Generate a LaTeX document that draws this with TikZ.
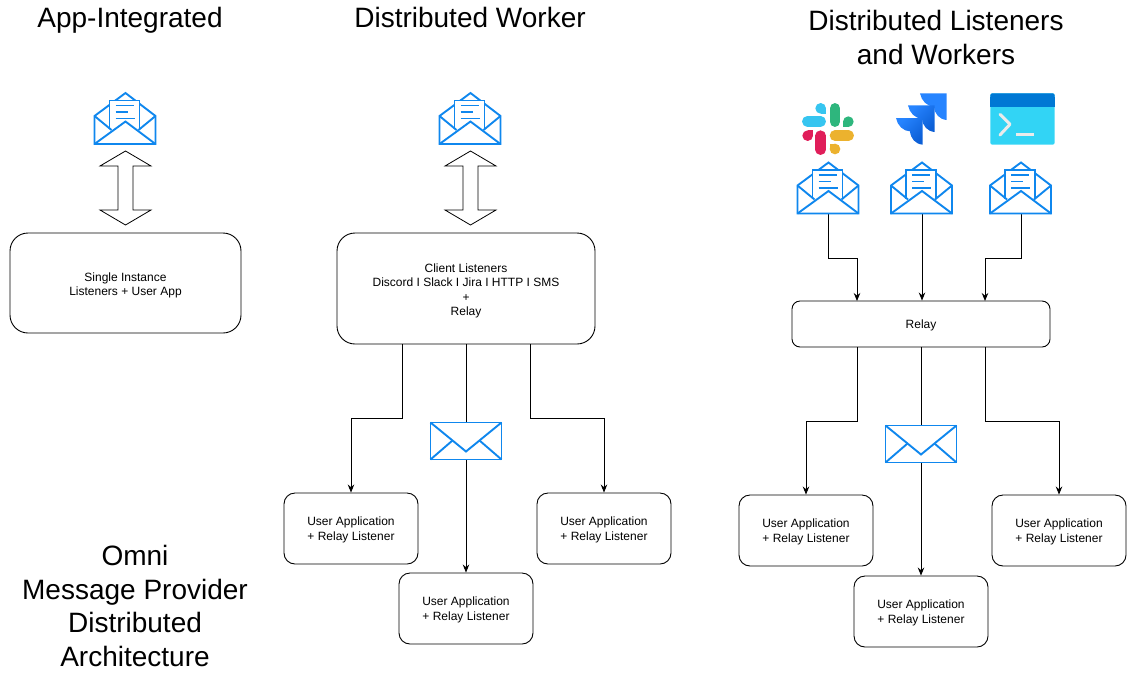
\documentclass[tikz,border=0pt]{standalone}
\usepackage{fontspec}
\setmainfont{Liberation Sans}
\usetikzlibrary{arrows.meta}
\definecolor{mailblue}{HTML}{0F87EE}
\newcommand{\leadin}{\rule{0pt}{13.5pt}}
\newcommand{\leaduser}{\rule{0pt}{11.5pt}}
\tikzset{
  x=1pt,y=-1pt,
  box/.style={draw=black,line width=0.9pt,fill=white,align=center,font=\fontsize{12}{14.8}\selectfont,inner sep=0pt},
  big/.style={box,rounded corners=18pt},
  userbox/.style={box,rounded corners=11pt,minimum width=134pt,minimum height=71pt},
  title/.style={align=center,inner sep=0pt,font=\fontsize{28}{33.7}\selectfont},
  conn/.style={draw=black,line width=0.9pt,-{Stealth[length=8pt,width=6.5pt]}},
  mailline/.style={draw=mailblue,line width=1.9pt,line join=miter},
  dbl/.style={draw=black,line width=0.8pt,fill=white},
  openmail/.pic={
    \fill[white] (0,23)--(31,0)--(61,23)--(61,51)--(0,51)--cycle;
    \draw[mailline] (0,23)--(31,0)--(61,23)--(61,51)--(0,51)--cycle;
    \draw[mailline,fill=white] (15,36)--(15,7.5)--(45,7.5)--(45,36);
    \draw[mailline] (21,12.5)--(39,12.5) (21,19)--(33,19) (21,25.5)--(40,25.5);
    \draw[mailline] (0,23)--(17,37) (61,23)--(44,37);
    \draw[mailline] (0,51)--(31,28.5)--(61,51);
  },
  closedmail/.pic={
    \draw[mailline,fill=white] (0,0) rectangle (71,37);
    \draw[mailline] (0,0)--(35.5,29)--(71,0);
    \draw[mailline] (0,37)--(22,18) (71,37)--(49,18);
  },
  updown/.pic={
    \draw[dbl] (25.5,0)--(51,15)--(33,15)--(33,59)--(51,59)--(25.5,74)--(0,59)--(18,59)--(18,15)--(0,15)--cycle;
  }
}
\begin{document}
\begin{tikzpicture}
\useasboundingbox (0,0) rectangle (1127,673);
% titles
\node[title] (t1) at (130,20) {App-Integrated};
\node[title] (t2) at (470,17) {Distributed Worker};
\node[title] (t3) at (936,37.5) {Distributed Listeners\\and Workers};
\node[title] (t4) at (135,606) {Omni\\Message Provider\\Distributed\\Architecture};
% boxes
\node[big,minimum width=231pt,minimum height=100pt] (single) at (125.5,283) {\leadin Single Instance\\Listeners + User App};
\node[big,minimum width=258pt,minimum height=111pt,font=\fontsize{12}{14.3}\selectfont] (client) at (466,288.5) {\leadin Client Listeners\\Discord I Slack I Jira I HTTP I SMS\\+\\Relay};
\node[box,rounded corners=8pt,minimum width=258pt,minimum height=46pt] (relay) at (921,324) {\rule{0pt}{12pt}Relay};
\node[userbox] (ua) at (351,528.5) {\leaduser User Application\\+ Relay Listener};
\node[userbox] (ub) at (466,608.5) {\leaduser User Application\\+ Relay Listener};
\node[userbox] (uc) at (604,528.5) {\leaduser User Application\\+ Relay Listener};
\node[userbox] (ud) at (806,530.5) {\leaduser User Application\\+ Relay Listener};
\node[userbox] (ue) at (921,611.5) {\leaduser User Application\\+ Relay Listener};
\node[userbox] (uf) at (1059,530.5) {\leaduser User Application\\+ Relay Listener};
% bend points
\coordinate (b1) at (402,418);
\coordinate (b2) at (530,418);
\coordinate (b3) at (857,421);
\coordinate (b4) at (985,421);
\coordinate (m1) at (828,213);
\coordinate (m2) at (922,213);
\coordinate (m3) at (1021,213);
\coordinate (b5) at (828,258);
\coordinate (b6) at (1021,258);
\coordinate (r1) at (857,301);
\coordinate (r3) at (985,301);
% connectors
\draw[conn] (client.south -| b1) -- (b1) -| (ua.north);
\draw[conn] (client.south) -- (ub.north);
\draw[conn] (client.south -| b2) -- (b2) -| (uc.north);
\draw[conn] (relay.south -| b3) -- (b3) -| (ud.north);
\draw[conn] (relay.south) -- (ue.north);
\draw[conn] (relay.south -| b4) -- (b4) -| (uf.north);
\draw[conn] (m1) -- (b5) -| (r1);
\draw[conn] (m2) -- (m2 |- relay.north);
\draw[conn] (m3) -- (b6) -| (r3);
% icons
\pic at (94.5,93) {openmail};
\pic at (439.5,93) {openmail};
\pic at (797.5,162.5) {openmail};
\pic at (891,162.5) {openmail};
\pic at (990,162.5) {openmail};
\pic at (100,151) {updown};
\pic at (445,151) {updown};
\pic at (430.5,422.5) {closedmail};
\pic at (885.5,425.5) {closedmail};
% slack
\begin{scope}[shift={(780,80)},x=0.3333pt,y=-0.3333pt]
  \definecolor{sblue}{HTML}{36C5F0}\definecolor{sgreen}{HTML}{2EB67D}
  \definecolor{syellow}{HTML}{ECB22E}\definecolor{sred}{HTML}{E01E5A}
  \draw[sblue,line width=10.6pt,line cap=round] (82,124)--(122,124);
  \fill[sblue] (122,85) circle[radius=16];
  \fill[sblue] (122,85) rectangle (138,101);
  \draw[sgreen,line width=10.6pt,line cap=round] (165,85)--(165,125);
  \fill[sgreen] (205,125) circle[radius=16];
  \fill[sgreen] (189,125) rectangle (205,141);
  \draw[syellow,line width=10.6pt,line cap=round] (165,167)--(206,167);
  \fill[syellow] (165,207) circle[radius=16];
  \fill[syellow] (149,191) rectangle (165,207);
  \draw[sred,line width=10.6pt,line cap=round] (122,167)--(122,209);
  \fill[sred] (83,167) circle[radius=16];
  \fill[sred] (83,151) rectangle (99,167);
  % jira
  \definecolor{jl}{HTML}{2684FF}\definecolor{jd}{HTML}{0C5FD6}
  \fill[jl] (420,40)--(500,40)--(500,120) .. controls (478,118) and (464,102) .. (462,80) .. controls (442,80) and (424,62) .. (420,40)--cycle;
  \shade[left color=jl,right color=jd,shading angle=45] (384,76)--(464,76)--(464,156) .. controls (442,154) and (428,138) .. (426,116) .. controls (406,116) and (388,98) .. (384,76)--cycle;
  \shade[left color=jl,right color=jd,shading angle=45] (348,114)--(428,114)--(428,194) .. controls (406,192) and (392,176) .. (390,154) .. controls (370,154) and (352,136) .. (348,114)--cycle;
  % terminal
  \definecolor{tbody}{HTML}{32D4F5}\definecolor{tband}{HTML}{0078D4}
  \fill[tbody,rounded corners=2pt] (631,40) rectangle (824,194);
  \fill[tband,rounded corners=2pt] (631,40) rectangle (824,60);
  \fill[tband] (631,50) rectangle (824,80);
  \draw[black!8,line width=3pt,line cap=round,line join=round] (660,103)--(690,133)--(660,165);
  \draw[black!8,line width=3pt] (708,165)--(762,165);
\end{scope}
\end{tikzpicture}
\end{document}
